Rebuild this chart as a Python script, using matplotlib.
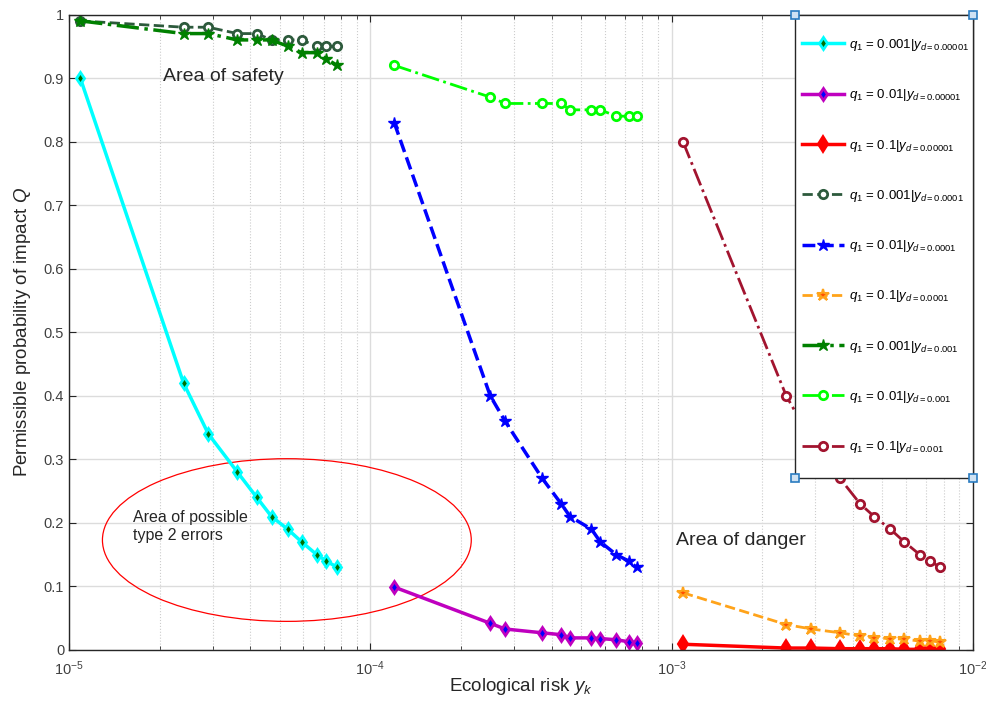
import numpy as np
import matplotlib
matplotlib.use('Agg')
import matplotlib.pyplot as plt
from matplotlib.patches import Ellipse, Rectangle
from matplotlib.ticker import LogLocator, FixedLocator, NullFormatter

plt.rcParams['font.family'] = ['Liberation Sans', 'DejaVu Sans']
plt.rcParams['mathtext.fontset'] = 'custom'
plt.rcParams['mathtext.rm'] = 'Liberation Sans'
plt.rcParams['mathtext.it'] = 'Liberation Sans:italic'

# ecological risk y_k for each q1
yk_q001 = [1.09e-5, 2.40e-5, 2.90e-5, 3.62e-5, 4.20e-5, 4.70e-5, 5.32e-5, 5.92e-5, 6.64e-5, 7.15e-5, 7.76e-5]
yk_q01 = [1.20e-4, 2.50e-4, 2.80e-4, 3.72e-4, 4.30e-4, 4.60e-4, 5.42e-4, 5.80e-4, 6.55e-4, 7.20e-4, 7.65e-4]
yk_q1 = [1.09e-3, 2.40e-3, 2.91e-3, 3.62e-3, 4.22e-3, 4.70e-3, 5.32e-3, 5.92e-3, 6.66e-3, 7.19e-3, 7.80e-3]

# permissible probability Q
Q_001_yd5 = [0.90, 0.42, 0.34, 0.28, 0.24, 0.21, 0.19, 0.17, 0.15, 0.14, 0.13]
Q_01_yd5 = [0.099, 0.042, 0.033, 0.027, 0.024, 0.019, 0.019, 0.018, 0.016, 0.013, 0.011]
Q_1_yd5 = [0.009, 0.003, 0.003, 0.002, 0.002, 0.002, 0.002, 0.001, 0.001, 0.001, 0.001]
Q_001_yd4 = [0.99, 0.98, 0.98, 0.97, 0.97, 0.96, 0.96, 0.96, 0.95, 0.95, 0.95]
Q_01_yd4 = [0.83, 0.40, 0.36, 0.27, 0.23, 0.21, 0.19, 0.17, 0.15, 0.14, 0.13]
Q_1_yd4 = [0.09, 0.040, 0.033, 0.027, 0.022, 0.019, 0.018, 0.017, 0.014, 0.014, 0.013]
Q_001_yd3 = [0.99, 0.97, 0.97, 0.96, 0.96, 0.96, 0.95, 0.94, 0.94, 0.93, 0.92]
Q_01_yd3 = [0.92, 0.87, 0.86, 0.86, 0.86, 0.85, 0.85, 0.85, 0.84, 0.84, 0.84]
Q_1_yd3 = [0.80, 0.40, 0.33, 0.27, 0.23, 0.21, 0.19, 0.17, 0.15, 0.14, 0.13]

y_ticks = [0, 0.1, 0.2, 0.3, 0.4, 0.5, 0.6, 0.7, 0.8, 0.9, 1]
y_ticklabels = ['0', '0.1', '0.2', '0.3', '0.4', '0.5', '0.6', '0.7', '0.8', '0.9', '1']


def lab(q, yd):
    return r'$q_1$ = ' + q + r'|$y_{d\mathrm{= ' + yd + '}}$'


fig = plt.figure(figsize=(9.87, 7.01), dpi=100)
ax = fig.add_axes([0.0699, 0.0728, 0.9159, 0.9065])

ax.plot(yk_q001, Q_001_yd5, '-', color='cyan', lw=2.5, marker='d', ms=6,
        mfc='#007000', mec='cyan', mew=2, label=lab('0.001', '0.00001'))
ax.plot(yk_q01, Q_01_yd5, '-', color='#bf00bf', lw=2.5, marker='d', ms=6,
        mfc='blue', mec='#bf00bf', mew=2, label=lab('0.01', '0.00001'))
ax.plot(yk_q1, Q_1_yd5, '-', color='red', lw=2.5, marker='d', ms=8,
        mfc='red', mec='red', mew=1.5, label=lab('0.1', '0.00001'))
ax.plot(yk_q001, Q_001_yd4, '--', color='#2d5a3c', lw=2, marker='o', ms=6,
        mfc='white', mec='#2d5a3c', mew=2, label=lab('0.001', '0.0001'))
ax.plot(yk_q01, Q_01_yd4, '--', color='blue', lw=2.5, marker='*', ms=9,
        mfc='blue', mec='blue', mew=1, label=lab('0.01', '0.0001'))
ax.plot(yk_q1, Q_1_yd4, '--', color='#ffa31a', lw=2, marker='*', ms=9,
        mfc='#ff5000', mec='#ffa31a', mew=1.5, label=lab('0.1', '0.0001'))
ax.plot(yk_q001, Q_001_yd3, '-.', color='#008000', lw=2.5, marker='*', ms=9,
        mfc='#008000', mec='#008000', mew=1, label=lab('0.001', '0.001'))
ax.plot(yk_q01, Q_01_yd3, '-.', color='#00ff00', lw=2, marker='o', ms=6,
        mfc='white', mec='#00ff00', mew=2, label=lab('0.01', '0.001'))
ax.plot(yk_q1, Q_1_yd3, '-.', color='#a2142f', lw=2, marker='o', ms=6,
        mfc='white', mec='#a2142f', mew=2, label=lab('0.1', '0.001'))

ax.set_xscale('log')
ax.set_xlim(1e-5, 1e-2)
ax.set_ylim(0, 1)
ax.xaxis.set_major_locator(FixedLocator([1e-5, 1e-4, 1e-3, 1e-2]))
ax.xaxis.set_minor_locator(LogLocator(base=10, subs=np.arange(2, 10)))
ax.xaxis.set_minor_formatter(NullFormatter())
ax.set_yticks(y_ticks)
ax.set_yticklabels(y_ticklabels)

ax.grid(True, which='major', axis='both', color='#dcdcdc', lw=1, ls='-')
ax.grid(True, which='minor', axis='x', color='#cccccc', lw=0.8, ls=':')
ax.set_axisbelow(True)
ax.tick_params(which='both', direction='in', top=True, right=True,
               colors='#262626', labelcolor='#404040', labelsize=10.5)
ax.tick_params(which='major', length=5)
ax.tick_params(which='minor', length=3)
ax.tick_params(axis='x', which='major', pad=7)
for s in ax.spines.values():
    s.set_color('#262626')
    s.set_linewidth(1)

ax.set_xlabel(r'Ecological risk $y_k$', fontsize=13.5, color='#262626', va='center')
ax.xaxis.set_label_coords(0.5, -0.057)
ax.set_ylabel(r'Permissible probability of impact $Q$', fontsize=13.5, color='#262626', labelpad=8)

# annotations
ax.text(0.104, 0.902, 'Area of safety', transform=ax.transAxes, fontsize=14,
        color='#262626', va='center', ha='left')
ax.text(0.0708, 0.194, 'Area of possible\ntype 2 errors', transform=ax.transAxes,
        fontsize=11.5, color='#262626', va='center', ha='left', linespacing=1.2)
ax.text(0.671, 0.172, 'Area of danger', transform=ax.transAxes, fontsize=14,
        color='#262626', va='center', ha='left')
ax.add_patch(Ellipse((0.241, 0.173), 0.408, 0.256, transform=ax.transAxes,
                     fill=False, edgecolor='red', lw=0.9))

# legend box (frame drawn separately so the padding can differ per side)
ax.add_patch(Rectangle((0.803, 0.271), 0.197, 0.729, transform=ax.transAxes,
                       facecolor='white', edgecolor='#262626', lw=1,
                       zorder=5, clip_on=False))
leg = ax.legend(loc='center left', bbox_to_anchor=(0.805, 0.6355),
                fontsize=9.5, handlelength=3.2, handletextpad=0.35,
                labelspacing=2.6, borderpad=0.4, borderaxespad=0,
                frameon=False)
leg.set_zorder(6)

# edit handles on the legend corners
for cx, cy in [(0.803, 1.0), (1.0, 1.0), (0.803, 0.271), (1.0, 0.271)]:
    ax.plot(cx, cy, 's', ms=6, mfc='#cfe2f3', mec='#2a7bc0', mew=1.2,
            transform=ax.transAxes, clip_on=False, zorder=10)

fig.savefig('out.png', dpi=100)
